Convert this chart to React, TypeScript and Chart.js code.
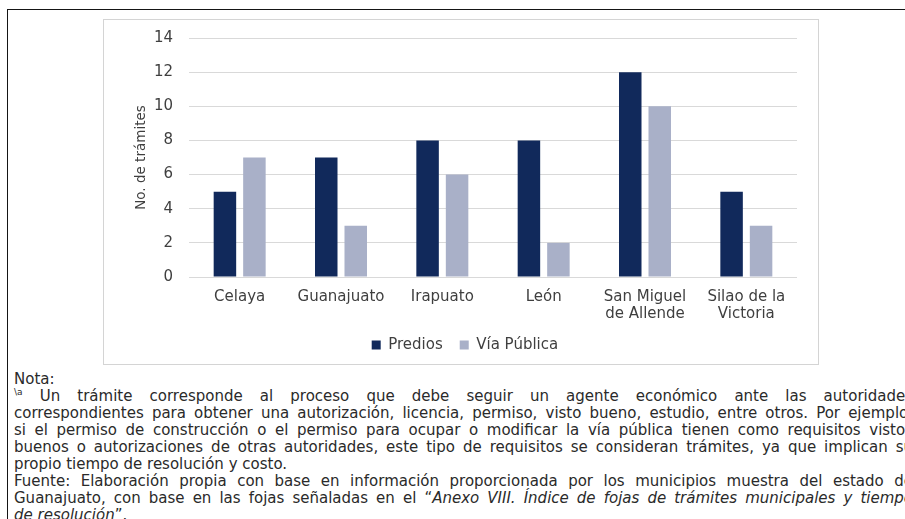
import React, { useEffect, useRef } from "react";
import { Chart, registerables } from "chart.js";

Chart.register(...registerables);

const categories: string[][] = [
  ["Celaya"],
  ["Guanajuato"],
  ["Irapuato"],
  ["León"],
  ["San Miguel", "de Allende"],
  ["Silao de la", "Victoria"],
];
const seriesNames = ["Predios", "Vía Pública"];
const predios = [5, 7, 8, 8, 12, 5];
const viaPublica = [7, 3, 6, 2, 10, 3];
const yMin = 0;
const yMax = 14;
const yStep = 2;
const yAxisTitle = "No. de trámites";

const DARK = "#11295b";
const LIGHT = "#a9b0c8";
const GRID = "#d9d9d9";
const TEXT = "#3f3f3f";
const FONT = "'DejaVu Sans', sans-serif";

function BarChart() {
  const ref = useRef<HTMLCanvasElement | null>(null);
  useEffect(() => {
    if (!ref.current) return;
    const chart = new Chart(ref.current, {
      type: "bar",
      data: {
        labels: categories,
        datasets: [
          {
            label: seriesNames[0],
            data: predios,
            backgroundColor: DARK,
            categoryPercentage: 0.582,
            barPercentage: 0.763,
          },
          {
            label: seriesNames[1],
            data: viaPublica,
            backgroundColor: LIGHT,
            categoryPercentage: 0.582,
            barPercentage: 0.763,
          },
        ],
      },
      options: {
        responsive: false,
        animation: false,
        devicePixelRatio: 1,
        layout: { padding: { left: 28.9, right: 21, top: 18, bottom: 1.5 } },
        plugins: {
          legend: {
            position: "bottom",
            labels: {
              boxWidth: 9,
              boxHeight: 9,
              padding: 17,
              color: TEXT,
              font: { family: FONT, size: 15 },
            },
          },
          tooltip: { enabled: false },
        },
        scales: {
          x: {
            grid: { display: false, drawTicks: false },
            border: { display: false },
            ticks: {
              padding: 11,
              color: TEXT,
              maxRotation: 0,
              autoSkip: false,
              font: { family: FONT, size: 15, lineHeight: 1.15 },
            },
            afterFit: (s: any) => {
              s.height = 43.5;
              s.paddingLeft = 0;
              s.paddingRight = 0;
            },
          },
          y: {
            min: yMin,
            max: yMax,
            grid: { color: GRID, drawTicks: false, lineWidth: 1 },
            border: { display: false },
            ticks: {
              stepSize: yStep,
              padding: 16,
              color: TEXT,
              font: { family: FONT, size: 15 },
            },
            title: {
              display: true,
              text: yAxisTitle,
              color: TEXT,
              padding: 0,
              font: { family: FONT, size: 13.5 },
            },
            afterFit: (s: any) => {
              s.width = 56.1;
              s.paddingTop = 0;
              s.paddingBottom = 0;
            },
          },
        },
      },
    });
    return () => chart.destroy();
  }, []);
  return <canvas ref={ref} width={714} height={344} style={{ display: "block", width: 714, height: 344 }} />;
}

const justified: React.CSSProperties = {
  textAlign: "justify",
  textAlignLast: "justify",
  whiteSpace: "nowrap",
};
const leftLine: React.CSSProperties = { whiteSpace: "nowrap" };

export default function App() {
  return (
    <div
      style={{
        position: "fixed",
        left: 0,
        top: 0,
        width: 905,
        height: 519,
        overflow: "hidden",
        background: "#ffffff",
        fontFamily: FONT,
      }}
    >
      <div
        style={{
          position: "absolute",
          left: 7,
          top: 9,
          width: 1000,
          height: 600,
          borderTop: "1px solid #151515",
          borderLeft: "1px solid #151515",
        }}
      />
      <div
        style={{
          position: "absolute",
          left: 103,
          top: 19,
          width: 716,
          height: 346,
          boxSizing: "border-box",
          border: "1px solid #d4d4d4",
        }}
      >
        <BarChart />
      </div>
      <div
        style={{
          position: "absolute",
          left: 14,
          top: 370.5,
          width: 899,
          fontSize: 15,
          lineHeight: "17.1px",
          color: "#2a2a2a",
        }}
      >
        <div style={leftLine}>Nota:</div>
        <div style={justified}>
          <sup style={{ fontSize: 9, lineHeight: 0 }}>{"\\a"}</sup> Un trámite corresponde al proceso que debe seguir un agente económico ante las autoridades
        </div>
        <div style={justified}>
          correspondientes para obtener una autorización, licencia, permiso, visto bueno, estudio, entre otros. Por ejemplo,
        </div>
        <div style={justified}>
          si el permiso de construcción o el permiso para ocupar o modificar la vía pública tienen como requisitos vistos
        </div>
        <div style={justified}>
          buenos o autorizaciones de otras autoridades, este tipo de requisitos se consideran trámites, ya que implican su
        </div>
        <div style={leftLine}>propio tiempo de resolución y costo.</div>
        <div style={justified}>
          Fuente: Elaboración propia con base en información proporcionada por los municipios muestra del estado de
        </div>
        <div style={justified}>
          Guanajuato, con base en las fojas señaladas en el “<i>Anexo VIII. Índice de fojas de trámites municipales y tiempo</i>
        </div>
        <div style={leftLine}>
          <i>de resolución</i>”.
        </div>
      </div>
    </div>
  );
}
